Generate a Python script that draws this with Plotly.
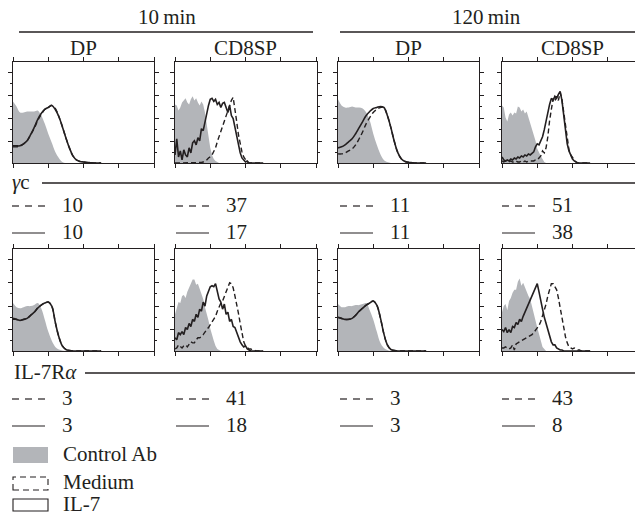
import plotly.graph_objects as go

# ---------------- data ----------------
X_DP = [round(i * 0.1, 2) for i in range(26)]      # log fluorescence, DP panels
X_SP = [round(i * 0.05, 2) for i in range(51)]     # log fluorescence, CD8SP panels

# gamma-c, 10 min, DP
gc10_dp_ctrl = [61, 56, 50, 50, 51, 51, 51, 52, 47, 39, 29, 20, 11, 5, 1, 0, 0, 0, 0, 0, 0, 0, 0, 0, 0, 0]
gc10_dp_med = [16, 16, 17, 19, 22, 28, 34, 42, 48, 53, 55, 57, 54, 46, 36, 25, 15, 7, 3, 1.5, 1, 0.5, 0.3, 0, 0, 0]
gc10_dp_il7 = [17, 17, 17, 19, 22, 28, 35, 43, 49, 53, 55, 57, 53, 46, 36, 25, 15, 7, 3, 1.5, 1, 0.5, 0.3, 0, 0, 0]
# gamma-c, 10 min, CD8SP
gc10_sp_ctrl = [58, 57, 52, 55, 60, 62, 64, 60, 58, 63, 66, 62, 64, 60, 57, 61, 58, 50, 38, 25,
                15, 8, 4, 2, 1, 0] + [0] * 25
gc10_sp_med = [0] * 15 + [0.5, 1, 2, 3, 5, 6, 8, 11, 15, 21, 26, 31, 36, 41, 47, 51, 58, 62, 65, 55, 41,
                          28, 18, 11, 6, 3, 1, 0] + [0] * 8
gc10_sp_il7 = [8, 24, 6, 12, 3, 13, 8, 6, 15, 10, 20, 22, 18, 25, 22, 34, 32, 41, 51, 57,
               63, 64, 61, 63, 58, 60, 55, 59, 60, 55, 50, 57, 47, 44, 35, 25, 17, 10, 5, 3,
               1, 2, 0] + [0] * 8
# gamma-c, 120 min, DP
gc120_dp_ctrl = [63, 57, 55, 55, 56, 55, 55, 54, 50, 42, 29, 18, 9, 3, 1, 0, 0, 0, 0, 0, 0, 0, 0, 0, 0, 0]
gc120_dp_med = [9, 9, 10, 12, 14, 18, 24, 31, 39, 45, 50, 53, 55, 55, 47, 35, 21, 10, 4, 1.5, 0.7, 0.3, 0, 0, 0, 0]
gc120_dp_il7 = [15, 16, 18, 21, 24, 29, 35, 41, 47, 51, 54, 55, 56, 55, 47, 35, 21, 10, 4, 1.5, 0.7, 0.3, 0, 0, 0, 0]
# gamma-c, 120 min, CD8SP
gc120_sp_ctrl = [57, 55, 45, 41, 48, 50, 47, 50, 49, 56, 55, 51, 53, 49, 51, 45, 41, 34, 27, 22,
                 14, 10, 7, 4, 1, 0] + [0] * 25
gc120_sp_med = [2, 1, 2, 1, 1, 2, 1, 1, 2, 1, 1, 2, 1, 2, 1, 2, 2, 2, 2, 3,
                3, 5, 7, 12, 10, 15, 26, 42, 55, 64, 61, 66, 62, 70, 63, 50, 35, 21, 13, 8,
                5, 3, 1, 0] + [0] * 7
gc120_sp_il7 = [6, 3, 2, 3, 2, 4, 3, 5, 4, 6, 5, 7, 6, 8, 7, 9, 8, 10, 11, 16,
                19, 18, 22, 26, 33, 42, 52, 58, 64, 62, 66, 64, 68, 71, 62, 48, 34, 19, 12, 7,
                4, 2, 1, 0] + [0] * 7
# IL-7Ra, 10 min, DP
ra10_dp_ctrl = [47, 43, 42, 43, 44, 44, 45, 47, 42, 31, 19, 10, 4, 1.5, 0.5, 0, 0, 0, 0, 0, 0, 0, 0, 0, 0, 0]
ra10_dp_med = [31, 31, 30, 31, 32, 35, 38, 42, 45, 47, 48, 44, 28, 14, 5, 1.5, 0.5, 0, 0, 0, 0, 0, 0, 0, 0, 0]
ra10_dp_il7 = [32, 31, 30, 31, 32, 35, 38, 42, 45, 47, 48, 44, 28, 14, 5, 1.5, 0.5, 0, 0, 0, 0, 0, 0, 0, 0, 0]
# IL-7Ra, 10 min, CD8SP
ra10_sp_ctrl = [36, 41, 48, 47, 54, 55, 52, 58, 62, 67, 70, 70, 65, 66, 61, 58, 51, 43, 37, 30,
                22, 15, 10, 5, 2, 1, 0] + [0] * 24
ra10_sp_med = [2, 3, 6, 4, 3, 5, 6, 4, 7, 9, 8, 8, 11, 13, 13, 14, 16, 19, 21, 23,
               26, 28, 31, 34, 39, 43, 47, 49, 54, 59, 64, 67, 66, 62, 54, 47, 37, 27, 16, 9,
               5, 3, 2, 2, 1, 1, 0] + [0] * 4
ra10_sp_il7 = [13, 11, 18, 16, 19, 16, 23, 21, 27, 24, 31, 29, 36, 33, 41, 39, 48, 44, 54, 58,
               63, 64, 63, 66, 59, 51, 48, 41, 46, 36, 38, 29, 31, 24, 23, 18, 14, 9, 6, 4,
               5, 2, 1, 0] + [0] * 7
# IL-7Ra, 120 min, DP
ra120_dp_ctrl = [46, 43, 43, 44, 44, 45, 45, 46, 47, 40, 31, 19, 8, 3, 1, 0, 0, 0, 0, 0, 0, 0, 0, 0, 0, 0]
ra120_dp_med = [33, 32, 31, 31, 32, 35, 39, 42, 45, 47, 49, 45, 33, 17, 6, 1.5, 0.5, 0, 0, 0, 0, 0, 0, 0, 0, 0]
ra120_dp_il7 = [33, 32, 31, 31, 32, 35, 39, 42, 45, 47, 49, 45, 33, 17, 6, 1.5, 0.5, 0, 0, 0, 0, 0, 0, 0, 0, 0]
# IL-7Ra, 120 min, CD8SP
ra120_sp_ctrl = [38, 44, 46, 40, 49, 52, 57, 60, 60, 68, 71, 64, 67, 62, 58, 54, 51, 43, 38, 30,
                 23, 16, 9, 4, 2, 0] + [0] * 25
ra120_sp_med = [3, 3, 4, 3, 2, 3, 6, 1, 7, 8, 9, 10, 11, 12, 13, 14, 15, 16, 18, 20,
                22, 25, 29, 34, 40, 46, 54, 61, 66, 66, 63, 60, 52, 42, 32, 23, 14, 8, 4, 3,
                2, 3, 2, 1, 1, 0] + [0] * 5
ra120_sp_il7 = [21, 19, 23, 18, 21, 18, 24, 23, 28, 26, 31, 29, 34, 38, 41, 46, 50, 54, 58, 62,
                66, 58, 48, 41, 33, 27, 20, 13, 9, 6, 6, 3, 2, 1, 1, 0] + [0] * 15

# percentages shown below panels
gc_medium = [10, 37, 11, 51]
gc_il7 = [10, 17, 11, 38]
ra_medium = [3, 41, 3, 43]
ra_il7 = [3, 18, 3, 8]

time_labels = ["10\u2009min", "120\u2009min"]
subset_labels = ["DP", "CD8SP", "DP", "CD8SP"]
legend_labels = ["Control Ab", "Medium", "IL-7"]

# ---------------- layout helpers ----------------
W, H = 635, 525
FONT = "Liberation Serif"
FS = 21
INK = "#231f20"
GRAY = "#b3b5b9"


def px(x):
    return x / W


def py(y):
    return 1 - y / H


COL_PX = [(13, 154), (175, 317), (338, 479), (502, 635)]
ROW_PX = [(62, 163), (249, 351)]
UNIT_PX = 141 / 4.0

panels = [
    (0, 0, X_DP, gc10_dp_ctrl, gc10_dp_med, gc10_dp_il7, True),
    (0, 1, X_SP, gc10_sp_ctrl, gc10_sp_med, gc10_sp_il7, False),
    (0, 2, X_DP, gc120_dp_ctrl, gc120_dp_med, gc120_dp_il7, True),
    (0, 3, X_SP, gc120_sp_ctrl, gc120_sp_med, gc120_sp_il7, False),
    (1, 0, X_DP, ra10_dp_ctrl, ra10_dp_med, ra10_dp_il7, True),
    (1, 1, X_SP, ra10_sp_ctrl, ra10_sp_med, ra10_sp_il7, False),
    (1, 2, X_DP, ra120_dp_ctrl, ra120_dp_med, ra120_dp_il7, True),
    (1, 3, X_SP, ra120_sp_ctrl, ra120_sp_med, ra120_sp_il7, False),
]

fig = go.Figure()
layout = {}
for i, (r, c, xs, ctrl, med, il7, smooth) in enumerate(panels):
    k = i + 1
    xa = "x" if k == 1 else f"x{k}"
    ya = "y" if k == 1 else f"y{k}"
    shape = "spline" if smooth else "linear"
    fig.add_trace(go.Scatter(x=xs, y=ctrl, mode="lines", fill="tozeroy", fillcolor=GRAY,
                             line=dict(width=0, color=GRAY, shape=shape), xaxis=xa, yaxis=ya,
                             hoverinfo="skip"))
    fig.add_trace(go.Scatter(x=xs, y=med, mode="lines",
                             line=dict(width=1.4, color=INK, dash="5px,3px", shape=shape),
                             xaxis=xa, yaxis=ya, hoverinfo="skip"))
    fig.add_trace(go.Scatter(x=xs, y=il7, mode="lines",
                             line=dict(width=1.6, color=INK, shape=shape),
                             xaxis=xa, yaxis=ya, hoverinfo="skip"))
    x0, x1 = COL_PX[c]
    y0, y1 = ROW_PX[r]
    xmax = (x1 - x0) / UNIT_PX
    layout["xaxis" if k == 1 else f"xaxis{k}"] = dict(
        domain=[px(x0), px(x1)], range=[0, xmax], anchor=ya,
        showline=True, linecolor=INK, linewidth=1.2, mirror="ticks",
        ticks="outside", ticklen=4, tickcolor=INK, tickwidth=1,
        tickvals=[0, 1, 2, 3, 4], showticklabels=False, showgrid=False, zeroline=False,
    )
    layout["yaxis" if k == 1 else f"yaxis{k}"] = dict(
        domain=[py(y1), py(y0)], range=[0, 100], anchor=xa,
        showline=True, linecolor=INK, linewidth=1.2, mirror=("ticks" if c < 3 else False),
        ticks="outside", ticklen=4, tickcolor=INK, tickwidth=1,
        tickvals=[21, 44, 67, 90], showticklabels=False, showgrid=False, zeroline=False,
        minor=dict(ticks="outside", ticklen=2, tickcolor=INK, tickvals=[10, 33, 56, 79]),
    )

annotations = []
shapes = []


def text(x, y, s, anchor="center", size=FS):
    annotations.append(dict(x=px(x), y=py(y), xref="paper", yref="paper", text=s,
                            showarrow=False, xanchor=anchor, yanchor="middle",
                            font=dict(family=FONT, size=size, color=INK)))


def hline(x0, x1, y, width=1.3):
    shapes.append(dict(type="line", xref="paper", yref="paper", x0=px(x0), x1=px(x1),
                       y0=py(y), y1=py(y), line=dict(color=INK, width=width)))


# headers
text(167, 17, time_labels[0])
hline(19, 313, 32)
text(487, 17, time_labels[1])
hline(340, 635, 32)
for cx, lab in zip([83, 245, 408, 572], subset_labels):
    text(cx, 48, lab)

# value rows
DASH_X = [12, 176, 340, 502]
hline(42, 635, 183)
text(10, 182, "<i>γ</i>c", anchor="left")
hline(85, 635, 373)
text(12, 372, "IL-7R<i>α</i>", anchor="left")
for c in range(4):
    x0 = DASH_X[c]
    for yrow, med, il7 in [((206, 233), gc_medium[c], gc_il7[c]), ((399, 426), ra_medium[c], ra_il7[c])]:
        for j in range(3):
            hline(x0 + j * 13, x0 + j * 13 + 7, yrow[0], width=1.2)
        text(x0 + 48, yrow[0] - 1, str(med), anchor="left")
        hline(x0, x0 + 33, yrow[1], width=1.2)
        text(x0 + 48, yrow[1] - 1, str(il7), anchor="left")

# legend
shapes.append(dict(type="rect", xref="paper", yref="paper", x0=px(13), x1=px(48), y0=py(463), y1=py(447),
                   fillcolor=GRAY, line=dict(width=0)))
shapes.append(dict(type="rect", xref="paper", yref="paper", x0=px(13), x1=px(48), y0=py(490), y1=py(477),
                   line=dict(color=INK, width=1.1, dash="6px,4px")))
shapes.append(dict(type="rect", xref="paper", yref="paper", x0=px(13), x1=px(48), y0=py(511), y1=py(499),
                   line=dict(color=INK, width=1.1)))
for ly, lab in zip([454, 482, 504], legend_labels):
    text(61, ly, lab, anchor="left")

fig.update_layout(width=W, height=H, margin=dict(l=0, r=0, t=0, b=0),
                  paper_bgcolor="white", plot_bgcolor="white", showlegend=False,
                  annotations=annotations, shapes=shapes, **layout)

fig.write_html("out.html", config={"displayModeBar": False, "staticPlot": True},
               post_script="document.body.style.margin='0';document.body.style.overflow='hidden';")
